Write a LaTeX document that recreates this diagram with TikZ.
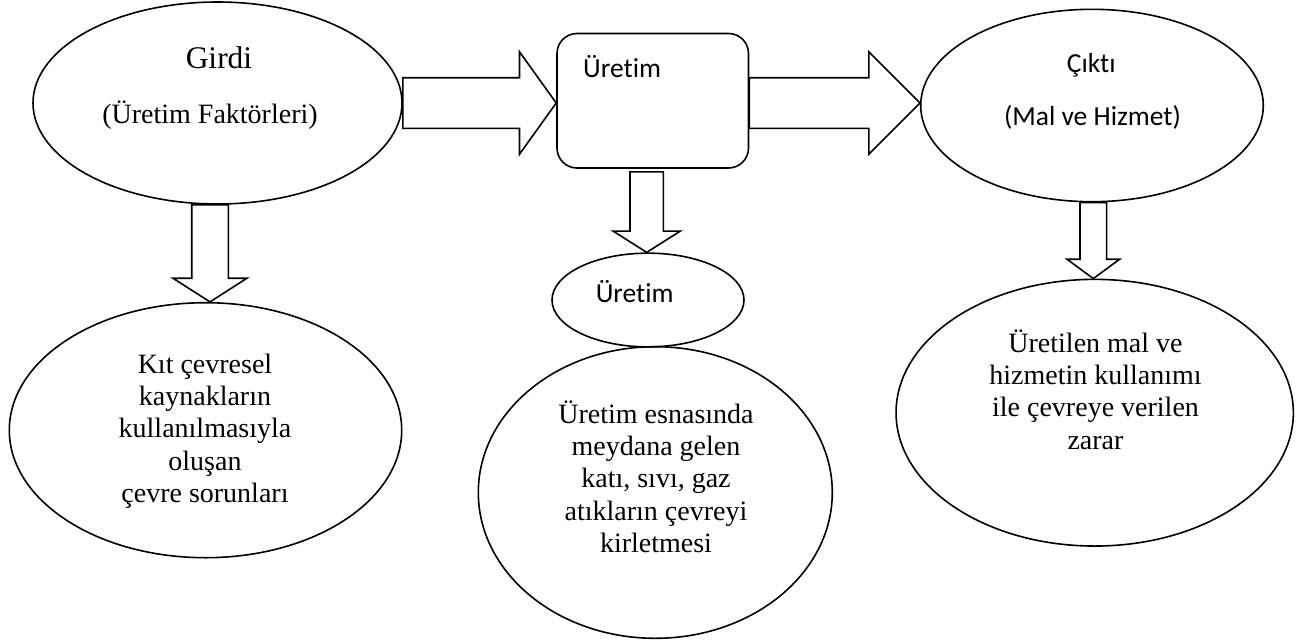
\documentclass[tikz,border=0pt]{standalone}
\usepackage{fontspec}
\setmainfont{Liberation Serif}
\newfontfamily\calibrifont[Ligatures=CommonOff]{Carlito}
\usetikzlibrary{shapes.geometric,calc}
\tikzset{
  shp/.style={draw, line width=1.6pt, inner sep=0pt},
  ell/.style={shp, ellipse},
  barrow/.style={draw, line width=1.6pt, line join=miter},
  sertxt/.style={inner sep=0pt, font=\fontsize{28}{32.4}\selectfont, align=center},
  caltxt/.style={inner sep=0pt, font=\calibrifont\fontsize{27.5}{32}\selectfont},
}
% horizontal block arrow: start, end, shaft half width, head half width, head length
\newcommand{\harrowdraw}[5]{%
  \draw[barrow] let \p1=#1, \p2=#2 in
    (\x1,\y1+#3) -- (\x2-#5,\y1+#3) -- (\x2-#5,\y1+#4) -- (\x2,\y1)
    -- (\x2-#5,\y1-#4) -- (\x2-#5,\y1-#3) -- (\x1,\y1-#3) -- cycle;}
% downward block arrow: start, end, shaft half width, head half width, head length
\newcommand{\varrowdraw}[5]{%
  \draw[barrow] let \p1=#1, \p2=#2 in
    (\x1-#3,\y1) -- (\x1-#3,\y2+#5) -- (\x1-#4,\y2+#5) -- (\x1,\y2)
    -- (\x1+#4,\y2+#5) -- (\x1+#3,\y2+#5) -- (\x1+#3,\y1) -- cycle;}
\begin{document}
\begin{tikzpicture}[x=1pt,y=-1pt]
\useasboundingbox (0,0) rectangle (1309,643);
% shapes
\node[ell, minimum width=369pt, minimum height=202pt] (girdi) at (217.5,103) {};
\node[shp, rounded corners=20pt, minimum width=191.5pt, minimum height=134.5pt] (prod) at (652.75,100.75) {};
\node[ell, minimum width=342.6pt, minimum height=192.4pt] (cikti) at (1092,105.5) {};
\node[ell, minimum width=392.4pt, minimum height=255pt] (kit) at (205.5,430.2) {};
\node[ell, minimum width=192pt, minimum height=93.7pt] (uret2) at (648,300) {};
\node[ell, minimum width=354pt, minimum height=291.6pt] (atik) at (655.3,492.5) {};
\node[ell, minimum width=397.3pt, minimum height=266.7pt] (zarar) at (1094.7,412.7) {};
% texts (base anchor of a multi-line node = baseline of its last line)
\node[inner sep=0pt, font=\fontsize{31.5}{36}\selectfont, anchor=base] (tgirdi) at (219,68) {Girdi};
\node[sertxt, anchor=base] (tfak) at (210,123) {(Üretim Faktörleri)};
\node[caltxt, anchor=base west] (tprod) at (583,77) {Üretim};
\node[caltxt, anchor=base] (turet2) at (634.7,302) {Üretim};
\node[caltxt, anchor=base] (tcikti) at (1091.3,72.7) {Çıktı};
\node[caltxt, anchor=base] (tmal) at (1092.5,125) {(Mal ve Hizmet)};
\node[sertxt, anchor=base] (tkit) at (205,502.7) {Kıt çevresel\\kaynakların\\kullanılmasıyla\\oluşan\\çevre sorunları};
\node[sertxt, anchor=base] (tatik) at (656,552.7) {Üretim esnasında\\meydana gelen\\katı, sıvı, gaz\\atıkların çevreyi\\kirletmesi};
\node[sertxt, anchor=base] (tzarar) at (1095.5,449.3) {Üretilen mal ve\\hizmetin kullanımı\\ile çevreye verilen\\zarar};
% block arrows
\harrowdraw{(girdi.east)}{(prod.west)}{25.3pt}{51.2pt}{36.7pt}
\harrowdraw{(prod.east |- girdi.east)}{(cikti.west)}{25.3pt}{51.2pt}{51pt}
\varrowdraw{(210,0 |- girdi.south)}{(210,0 |- kit.north)}{18.3pt}{37pt}{23.7pt}
\varrowdraw{($(646.7,0 |- prod.south)+(0,3)$)}{(646.7,0 |- uret2.north)}{16.7pt}{33.7pt}{21.3pt}
\varrowdraw{(1093.3,0 |- cikti.south)}{(1093.3,0 |- zarar.north)}{13.3pt}{26.3pt}{19.3pt}
\end{tikzpicture}
\end{document}
